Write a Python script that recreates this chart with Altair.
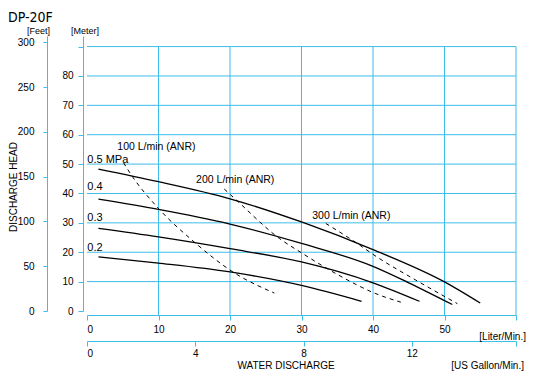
import altair as alt
import pandas as pd

# ---------------- data ----------------
liter_ticks = [0, 10, 20, 30, 40, 50, 60]
gallon_ticks = [0, 4, 8, 12]
meter_ticks = [0, 10, 20, 30, 40, 50, 60, 70, 80, 90]
feet_ticks = [0, 50, 100, 150, 200, 250, 300]
h_grid = [10, 20, 30, 40, 50, 60, 70, 80, 90]
v_grid = [10, 20, 30, 40, 50, 60]

# pressure curves (L/min, m)
p05_x = [1.6, 10, 20, 30, 40, 50, 55.0]
p05_y = [48.3, 44.0, 38.2, 30.3, 20.9, 9.9, 2.7]
p04_x = [1.6, 10, 20, 30, 40, 45, 51.1]
p04_y = [38.1, 34.6, 29.6, 23.0, 15.2, 9.6, 2.2]
p03_x = [1.6, 10, 20, 30, 40, 46.5]
p03_y = [28.1, 25.2, 21.2, 16.7, 9.6, 3.3]
p02_x = [1.6, 10, 20, 30, 38.4]
p02_y = [18.4, 16.3, 13.3, 8.7, 3.3]

# air consumption curves (dashed)
a100_x = [5.1, 6.2, 10.0, 14.7, 20.4, 26.2]
a100_y = [50.5, 46.3, 34.9, 24.1, 13.3, 6.1]
a200_x = [19.2, 21.0, 26.9, 30.0, 35.2, 40.4, 43.9]
a200_y = [41.5, 37.5, 24.7, 19.8, 12.2, 5.9, 3.0]
a300_x = [33.4, 37.3, 40.8, 46.0, 51.8]
a300_y = [29.8, 23.8, 18.0, 10.5, 2.5]

curve_labels = ["0.5 MPa", "0.4", "0.3", "0.2"]
curve_label_x = [0.05, 0.05, 0.05, 0.05]
curve_label_y = [50.4, 41.1, 30.7, 20.4]

air_labels = ["100 L/min (ANR)", "200 L/min (ANR)", "300 L/min (ANR)"]
air_label_x = [4.24, 15.26, 31.5]
air_label_y = [54.8, 43.4, 31.4]

# ---------------- layout / style ----------------
W, H = 429, 275
X_MAX = 60.0
Y_MAX = 93.6
M_TO_FT = 3.28084
L_TO_GAL = 1 / 3.78541
GRID = "#3dbde9"
TICK_FONT = "Liberation Sans, Arial, sans-serif"
LABEL_FONT = "Liberation Sans, Arial, sans-serif"

xs = alt.Scale(domain=[0, X_MAX], nice=False, zero=False)
ys = alt.Scale(domain=[0, Y_MAX], nice=False, zero=False)

x_axis = alt.Axis(values=liter_ticks, orient="bottom", offset=4, tickSize=5,
                  labelPadding=4, grid=False, title=None,
                  labelExpr="datum.value >= 60 ? '' : datum.label")
y_axis = alt.Axis(values=meter_ticks, orient="left", offset=4, tickSize=5,
                  labelPadding=5, grid=False, title=None,
                  labelExpr="datum.value >= 90 ? '' : datum.label")


def X(field):
    return alt.X(field, type="quantitative", scale=xs, axis=x_axis)


def Y(field):
    return alt.Y(field, type="quantitative", scale=ys, axis=y_axis)


def long(names, xss, yss):
    rows = []
    for n, xv, yv in zip(names, xss, yss):
        for i, (a, b) in enumerate(zip(xv, yv)):
            rows.append({"series": n, "x": a, "y": b, "i": i})
    return pd.DataFrame(rows)


solid_df = long(["0.5", "0.4", "0.3", "0.2"],
                [p05_x, p04_x, p03_x, p02_x], [p05_y, p04_y, p03_y, p02_y])
dash_df = long(["100", "200", "300"],
               [a100_x, a200_x, a300_x], [a100_y, a200_y, a300_y])

hgrid = alt.Chart(pd.DataFrame({"y": h_grid})).mark_rule(
    color=GRID, strokeWidth=1).encode(y=Y("y"), x=alt.value(0), x2=alt.value(W))
vgrid = alt.Chart(pd.DataFrame({"x": v_grid, "top": [90] * len(v_grid)})).mark_rule(
    color=GRID, strokeWidth=1).encode(x=X("x"), y=Y("top"), y2=alt.value(H + 4))

solid = alt.Chart(solid_df).mark_line(color="black", strokeWidth=1.3,
                                      interpolate="monotone").encode(
    x=X("x"), y=Y("y"), detail="series:N", order="i:Q")
dashed = alt.Chart(dash_df).mark_line(color="black", strokeWidth=1,
                                      strokeDash=[4, 4],
                                      interpolate="monotone").encode(
    x=X("x"), y=Y("y"), detail="series:N", order="i:Q")

clab = alt.Chart(pd.DataFrame({"t": curve_labels, "x": curve_label_x,
                               "y": curve_label_y})).mark_text(
    align="left", baseline="alphabetic", font=LABEL_FONT, fontSize=11,
    color="black").encode(x=X("x"), y=Y("y"), text="t:N")
alab = alt.Chart(pd.DataFrame({"t": air_labels, "x": air_label_x,
                               "y": air_label_y})).mark_text(
    align="left", baseline="alphabetic", font=LABEL_FONT, fontSize=10.5,
    color="black").encode(x=X("x"), y=Y("y"), text="t:N")

main = alt.layer(hgrid, vgrid, solid, dashed, clab, alab)

# secondary scales: feet and US gallons
aux = alt.Chart(pd.DataFrame({"gal": [0, X_MAX * L_TO_GAL],
                              "ft": [0, Y_MAX * M_TO_FT]})).mark_point(
    opacity=0).encode(
    x=alt.X("gal:Q", scale=alt.Scale(domain=[0, X_MAX * L_TO_GAL], nice=False, zero=False),
            axis=alt.Axis(values=gallon_ticks + [X_MAX * L_TO_GAL], orient="bottom",
                          offset=30, tickSize=5, labelPadding=2, grid=False, title=None,
                          labelExpr="datum.value > 15 ? '' : datum.label")),
    y=alt.Y("ft:Q", scale=alt.Scale(domain=[0, Y_MAX * M_TO_FT], nice=False, zero=False),
            axis=alt.Axis(values=feet_ticks, orient="left", offset=40, tickSize=4,
                          labelPadding=9, grid=False, title=None)),
)


def txt(s, x, y, size, align="left", angle=0, font=TICK_FONT):
    return alt.Chart(pd.DataFrame({"t": [s]})).mark_text(
        align=align, baseline="alphabetic", fontSize=size, font=font,
        color="black", angle=angle).encode(
        text="t:N", x=alt.value(x), y=alt.value(y))


# pixel positions relative to the plot's top-left corner
texts = [
    txt("DP-20F", -79, -14, 14, font="DejaVu Sans Condensed, DejaVu Sans, sans-serif"),
    txt("[Feet]", -60, -2, 9),
    txt("[Meter]", -16, -2, 9),
    txt("DISCHARGE HEAD", -70.5, 151, 10, align="center", angle=270),
    txt("[Liter/Min.]", 439, 304, 10, align="right"),
    txt("WATER DISCHARGE", 199, 333, 10, align="center"),
    txt("[US Gallon/Min.]", 437, 333, 10, align="right"),
]

chart = alt.layer(main, aux, *texts).resolve_scale(
    x="independent", y="independent"
).properties(
    width=W, height=H,
    padding={"left": 79, "top": 28, "right": 10, "bottom": 60},
    autosize=alt.AutoSizeParams(type="none"),
).configure_view(stroke=None).configure_axis(
    domainColor=GRID, tickColor=GRID, labelColor="black",
    labelFont=TICK_FONT, labelFontSize=10, domainWidth=1, tickWidth=1,
)

chart.save("out.html", embed_options={"renderer": "svg", "actions": False})
